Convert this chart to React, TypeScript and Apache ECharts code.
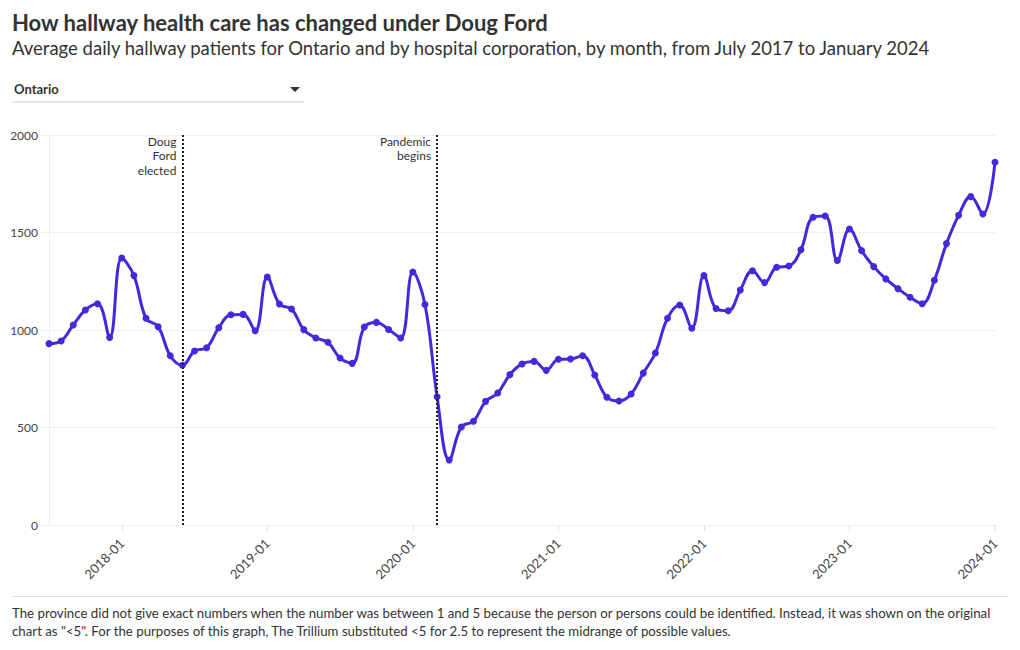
import React, { useEffect, useRef } from "react";
import * as echarts from "echarts";

const TITLE = "How hallway health care has changed under Doug Ford";
const SUBTITLE =
  "Average daily hallway patients for Ontario and by hospital corporation, by month, from July 2017 to January 2024";
const FOOTNOTE_1 =
  "The province did not give exact numbers when the number was between 1 and 5 because the person or persons could be identified. Instead, it was shown on the original";
const FOOTNOTE_2 =
  'chart as "<5". For the purposes of this graph, The Trillium substituted <5 for 2.5 to represent the midrange of possible values.';

const months: string[] = [];
for (let y = 2017; y <= 2024; y++) {
  for (let m = 1; m <= 12; m++) {
    if (y === 2017 && m < 7) continue;
    if (y === 2024 && m > 1) continue;
    months.push(`${y}-${String(m).padStart(2, "0")}`);
  }
}

const values2017 = [930, 944, 1026, 1103, 1135, 962];
const values2018 = [1369, 1279, 1060, 1017, 868, 819, 892, 909, 1012, 1078, 1080, 996];
const values2019 = [1272, 1133, 1108, 1002, 959, 937, 856, 829, 1015, 1039, 1003, 959];
const values2020 = [1297, 1131, 658, 333, 503, 532, 634, 677, 771, 826, 839, 793];
const values2021 = [850, 851, 868, 769, 655, 636, 672, 779, 882, 1060, 1128, 1009];
const values2022 = [1279, 1110, 1099, 1205, 1304, 1243, 1322, 1328, 1412, 1578, 1585, 1356];
const values2023 = [1518, 1407, 1325, 1262, 1212, 1168, 1135, 1255, 1443, 1588, 1684, 1595];
const values2024 = [1860];

const values = [
  ...values2017,
  ...values2018,
  ...values2019,
  ...values2020,
  ...values2021,
  ...values2022,
  ...values2023,
  ...values2024,
];

const events = [
  { month: "2018-06", label: "Doug\nFord\nelected" },
  { month: "2020-03", label: "Pandemic\nbegins" },
];

const yTicks = [0, 500, 1000, 1500, 2000];

const FONT = "Lato, 'Noto Sans', sans-serif";

export default function App() {
  const ref = useRef<HTMLDivElement>(null);
  useEffect(() => {
    if (!ref.current) return;
    const chart = echarts.init(ref.current, undefined, { renderer: "svg" });
    const isJan = (_i: number, v: string) => v.endsWith("-01");
    chart.setOption({
      animation: false,
      textStyle: { fontFamily: FONT },
      grid: { left: 49, right: 25, top: 135, bottom: 125, containLabel: false },
      graphic: [
        {
          type: "text",
          left: 12,
          top: 11,
          style: { text: TITLE, font: `bold 22px ${FONT}`, fill: "#333" },
        },
        {
          type: "text",
          left: 12,
          top: 38,
          style: { text: SUBTITLE, font: `18.5px ${FONT}`, fill: "#333" },
        },
        {
          type: "text",
          left: 14,
          top: 82,
          style: { text: "Ontario", font: `bold 13px ${FONT}`, fill: "#333" },
        },
        {
          type: "polygon",
          shape: { points: [[290, 87], [300, 87], [295, 92]] },
          style: { fill: "#333" },
        },
        {
          type: "line",
          shape: { x1: 12, y1: 102, x2: 304, y2: 102 },
          style: { stroke: "#ccc", lineWidth: 1 },
        },
        {
          type: "line",
          shape: { x1: 12, y1: 596.5, x2: 1008, y2: 596.5 },
          style: { stroke: "#ddd", lineWidth: 1 },
        },
        {
          type: "text",
          left: 12,
          top: 604,
          style: {
            text: FOOTNOTE_1 + "\n" + FOOTNOTE_2,
            font: `13.25px ${FONT}`,
            fill: "#333",
            lineHeight: 18,
          },
        },
      ],
      xAxis: {
        type: "category",
        data: months,
        boundaryGap: false,
        axisLine: { show: true, lineStyle: { color: "#eee" } },
        axisTick: { show: true, interval: isJan, length: 6, lineStyle: { color: "#ddd" } },
        axisLabel: {
          interval: isJan,
          rotate: 45,
          color: "#444",
          fontSize: 13,
          margin: 16,
          fontFamily: FONT,
        },
        splitLine: { show: false },
      },
      yAxis: {
        type: "value",
        min: yTicks[0],
        max: yTicks[yTicks.length - 1],
        interval: 500,
        axisLine: { show: true, lineStyle: { color: "#eee" } },
        axisTick: { show: true, length: 9, lineStyle: { color: "#eee" } },
        axisLabel: {
          color: "#444",
          fontSize: 12,
          margin: 11,
          fontFamily: FONT,
          formatter: (v: number) => String(v),
        },
        splitLine: { show: true, lineStyle: { color: "#eee" } },
      },
      series: [
        {
          type: "line",
          data: values,
          smooth: 0.4,
          symbol: "circle",
          symbolSize: 7,
          lineStyle: { color: "#4628dc", width: 3 },
          itemStyle: { color: "#4628dc" },
          markLine: {
            symbol: "none",
            silent: true,
            label: { show: false },
            lineStyle: { color: "#222", type: [2, 2], width: 2 },
            data: events.map((e) => ({ xAxis: e.month })),
          },
          markPoint: {
            symbol: "circle",
            symbolSize: 0,
            silent: true,
            label: {
              show: true,
              position: [-6, -1],
              align: "right",
              verticalAlign: "top",
              color: "#333",
              fontSize: 12,
              lineHeight: 14.5,
              fontFamily: FONT,
              formatter: (p: any) => p.name,
            },
            data: events.map((e) => ({ name: e.label, coord: [e.month, 2000] })),
          },
        },
      ],
    });
    return () => chart.dispose();
  }, []);
  return (
    <div
      ref={ref}
      style={{ position: "fixed", left: 0, top: 0, width: 1020, height: 650, background: "#fff" }}
    />
  );
}
